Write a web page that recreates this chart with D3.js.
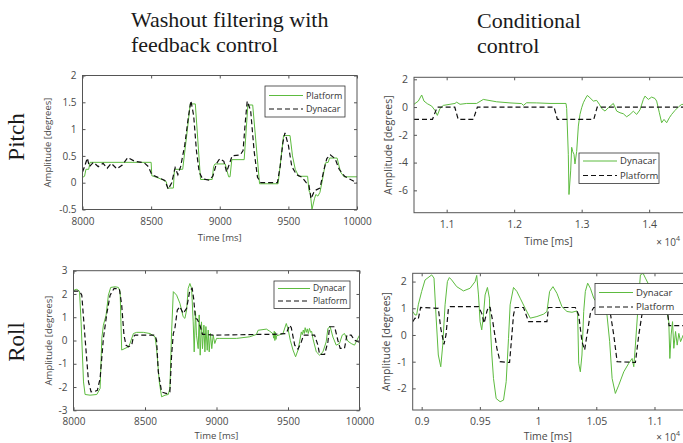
<!DOCTYPE html>
<html>
<head>
<meta charset="utf-8">
<script src="https://cdn.jsdelivr.net/npm/d3@7"></script>
<style>
  body { margin: 0; background: #fff; }
  text { font-family: "Open Sans", "Noto Sans", sans-serif; }
</style>
</head>
<body>
<div id="chart"></div>
<script>
// ---- Pitch, washout filtering with feedback control (time in ms) ----
const pitchWashPlatform = [[8000,0.1],[8015,0.12],[8025,0.25],[8045,0.25],[8055,0.38],[8500,0.38],[8505,0.13],[8540,0.1],[8580,0.06],[8610,0.02],[8620,-0.1],[8662,-0.1],[8670,0.25],[8730,0.25],[8760,0.9],[8785,1.47],[8822,1.47],[8860,0.06],[8945,0.06],[8955,0.3],[8965,0.35],[9040,0.35],[9055,0.2],[9065,0.11],[9075,0.11],[9088,0.43],[9178,0.43],[9205,1.45],[9240,1.45],[9290,-0.02],[9425,-0.02],[9465,0.88],[9512,0.88],[9530,0.5],[9550,0.25],[9575,0.12],[9640,0.12],[9650,-0.15],[9660,-0.2],[9672,-0.5],[9690,-0.3],[9700,-0.22],[9715,-0.25],[9730,-0.18],[9748,0.05],[9770,0.37],[9790,0.38],[9800,0.46],[9855,0.46],[9880,0.2],[9905,0.11],[10000,0.11]];
const pitchWashDynacar = [[8000,0.2],[8015,0.3],[8035,0.46],[8050,0.3],[8080,0.38],[8115,0.3],[8150,0.36],[8180,0.27],[8210,0.36],[8250,0.26],[8290,0.33],[8330,0.47],[8380,0.4],[8450,0.37],[8480,0.3],[8505,0.15],[8550,0.1],[8600,0.04],[8625,-0.12],[8650,0.0],[8675,0.28],[8695,0.15],[8715,0.3],[8745,0.7],[8770,1.2],[8790,1.53],[8810,1.25],[8830,0.6],[8850,0.2],[8875,0.07],[8920,0.05],[8950,0.12],[8975,0.35],[9000,0.45],[9030,0.4],[9050,0.2],[9070,0.35],[9090,0.5],[9150,0.52],[9170,0.6],[9185,1.1],[9200,1.52],[9225,1.35],[9250,0.6],[9275,0.1],[9300,0.0],[9420,0.0],[9440,0.3],[9460,0.75],[9475,0.93],[9500,0.7],[9525,0.3],[9560,0.15],[9600,0.1],[9630,0.0],[9650,-0.05],[9665,-0.3],[9690,-0.15],[9730,-0.1],[9760,0.25],[9780,0.45],[9805,0.52],[9840,0.45],[9870,0.25],[9910,0.12],[9960,0.05],[10000,0.0]];

// ---- Pitch, conditional control (time in 10^4 ms) ----
const pitchCondDynacar = [[1.0516,0.2],[1.058,0.43],[1.063,0.87],[1.0664,0.43],[1.0714,0.24],[1.0778,0.07],[1.0827,-0.24],[1.0862,-0.6],[1.0901,-0.1],[1.0951,0.12],[1.1049,0.2],[1.1123,0.26],[1.1148,0.35],[1.1198,0.2],[1.1296,0.26],[1.1444,0.26],[1.1543,0.55],[1.1741,0.38],[1.1938,0.3],[1.2111,0.25],[1.2136,0.12],[1.2185,0.31],[1.2333,0.3],[1.2531,0.26],[1.2768,0.26],[1.2778,-0.1],[1.2802,-3.4],[1.2812,-6.3],[1.2837,-4.6],[1.2852,-2.9],[1.2867,-3.2],[1.2886,-3.4],[1.2901,-4.1],[1.2926,-3.2],[1.2951,-1.37],[1.2975,-0.53],[1.3,-0.05],[1.3025,0.31],[1.3049,0.55],[1.3084,0.84],[1.3123,0.67],[1.3173,0.43],[1.3222,0.48],[1.3262,0.2],[1.3296,-0.1],[1.3346,-0.29],[1.3395,-0.05],[1.3469,0.26],[1.3519,-0.29],[1.3568,-0.41],[1.3617,-0.48],[1.3667,-0.7],[1.3716,-0.53],[1.3765,-0.3],[1.3815,-0.53],[1.3864,-0.2],[1.3914,0.55],[1.3938,0.79],[1.3988,0.55],[1.4037,0.72],[1.4086,0.62],[1.4111,0.43],[1.4151,-0.41],[1.4185,-1.13],[1.422,-0.89],[1.4259,-1.13],[1.4299,-0.77],[1.4333,-0.53],[1.4383,-0.24],[1.4432,0.0],[1.4481,0.19],[1.46,0.2]];
const pitchCondPlatform = [[1.0516,-0.88],[1.079,-0.88],[1.086,0],[1.112,0],[1.117,-0.88],[1.1395,-0.88],[1.1455,0],[1.259,0],[1.264,-0.88],[1.318,-0.88],[1.323,0],[1.46,0]];

// ---- Roll, washout filtering with feedback control (time in ms) ----
const rollWashDynacar = [[8000,2.1],[8005,2.17],[8023,2.2],[8042,2.12],[8053,0.8],[8070,-1.78],[8081,-2.32],[8116,-2.35],[8163,-2.32],[8186,-2.06],[8198,0.09],[8209,0.66],[8228,1.09],[8244,1.95],[8260,2.28],[8291,2.31],[8314,2.28],[8326,2.1],[8337,-0.41],[8360,-0.34],[8384,-0.27],[8395,-0.13],[8419,0.3],[8442,0.35],[8488,0.35],[8535,0.3],[8570,0.16],[8581,-0.34],[8600,-1.78],[8616,-2.42],[8640,-2.35],[8663,-2.32],[8674,-2.06],[8686,0.37],[8698,2.1],[8721,1.95],[8744,1.6],[8767,1.02],[8779,0.95],[8791,1.31],[8802,2.24],[8814,2.45],[8826,2.24],[8837,0.8],[8844,-0.49],[8853,1.25],[8860,0.23],[8872,-0.35],[8879,1.1],[8886,-0.63],[8895,0.8],[8902,-0.35],[8912,0.66],[8919,-0.49],[8926,0.6],[8935,-0.42],[8942,0.45],[8949,-0.49],[8958,0.3],[8967,-0.35],[8977,0.23],[8988,-0.13],[9000,0.09],[9023,0.09],[9140,0.09],[9233,0.16],[9279,0.26],[9291,0.44],[9349,0.49],[9372,0.4],[9395,0.29],[9400,0.1],[9404,0.4],[9408,0.0],[9412,0.35],[9416,0.05],[9419,0.2],[9440,0.24],[9465,0.3],[9488,0.73],[9500,0.5],[9516,0.01],[9535,-0.41],[9553,-0.7],[9570,-0.41],[9581,-0.06],[9593,0.37],[9600,0.25],[9607,0.45],[9614,0.3],[9620,0.55],[9628,0.35],[9635,0.5],[9642,0.3],[9650,0.52],[9658,0.35],[9665,0.4],[9674,0.09],[9698,-0.49],[9721,-0.63],[9744,-0.49],[9767,-0.06],[9779,0.52],[9795,0.59],[9814,0.15],[9837,-0.2],[9860,-0.13],[9879,0.23],[9895,0.3],[9919,-0.03],[9942,-0.13],[9965,-0.2],[9981,0.0],[10000,0.23]];
const rollWashPlatform = [[8000,2.12],[8042,2.12],[8058,1.95],[8081,0.09],[8105,-1.78],[8123,-2.21],[8151,-2.18],[8167,-2.14],[8186,-1.63],[8209,0.09],[8233,1.16],[8256,1.95],[8284,2.24],[8321,2.21],[8337,1.52],[8353,0.23],[8367,-0.2],[8384,-0.27],[8407,-0.2],[8419,0.16],[8430,0.23],[8570,0.23],[8581,0.01],[8593,-1.35],[8616,-2.21],[8651,-2.28],[8674,-2.21],[8686,-0.63],[8698,0.3],[8709,0.52],[8726,1.31],[8744,1.45],[8767,1.16],[8791,1.38],[8814,2.17],[8830,2.24],[8840,1.81],[8853,0.95],[8865,0.92],[8884,0.66],[8902,0.26],[8930,0.26],[8977,0.23],[9291,0.26],[9395,0.26],[9488,0.3],[9512,0.66],[9523,0.55],[9547,-0.2],[9570,-0.37],[9593,-0.06],[9609,0.23],[9686,0.23],[9709,-0.2],[9721,-0.6],[9756,-0.6],[9779,-0.06],[9791,0.59],[9826,0.59],[9849,0.0],[9865,-0.34],[9895,-0.34],[9912,0.23],[9942,0.23],[9965,0.01],[10000,-0.08]];

// ---- Roll, conditional control (time in 10^4 ms) ----
const rollCondDynacar = [[0.8923,0.88],[0.8943,0.75],[0.8957,0.75],[0.8971,1.13],[0.9,1.63],[0.9029,2.06],[0.9086,2.25],[0.9106,2.13],[0.9123,0.75],[0.9143,-0.75],[0.9164,-1.19],[0.9181,-0.38],[0.9201,1.13],[0.9221,2.0],[0.9238,2.15],[0.9258,2.06],[0.9301,1.81],[0.9359,1.65],[0.9416,1.75],[0.9459,2.0],[0.9473,2.23],[0.9488,1.5],[0.9502,0.5],[0.9516,0.19],[0.9531,0.75],[0.9545,1.5],[0.9565,1.78],[0.9582,1.38],[0.9588,0.5],[0.9603,-0.75],[0.9617,-1.63],[0.964,-2.38],[0.9674,-2.5],[0.9703,-2.44],[0.9726,-1.75],[0.9746,-0.13],[0.976,1.13],[0.9789,1.78],[0.9818,1.63],[0.9846,1.38],[0.9889,1.0],[0.9933,0.63],[0.999,0.69],[1.0047,0.78],[1.0076,0.88],[1.0099,1.63],[1.0128,1.81],[1.0162,1.56],[1.0205,1.06],[1.0248,0.88],[1.0291,0.85],[1.0334,0.9],[1.034,0.75],[1.0349,-1.06],[1.0363,-1.38],[1.0377,-0.75],[1.0392,0.88],[1.0406,1.63],[1.0426,1.94],[1.0449,1.75],[1.0478,1.38],[1.0506,1.2],[1.0549,1.0],[1.0592,0.75],[1.0615,-0.25],[1.0636,-1.63],[1.0664,-2.19],[1.0693,-1.88],[1.0736,-1.38],[1.0779,-1.06],[1.0808,-0.88],[1.0822,-1.19],[1.0836,-0.38],[1.0856,0.88],[1.0879,2.25],[1.0902,2.31],[1.0922,2.13],[1.0966,1.75],[1.1023,1.5],[1.108,1.13],[1.1109,0.8],[1.1123,0.5],[1.1132,-0.88],[1.1143,0.0],[1.1155,0.5],[1.1166,-0.5],[1.1181,0.13],[1.1195,-0.38],[1.1209,0.06],[1.1224,-0.25],[1.1247,0.0],[1.135,0.0]];
const rollCondPlatform = [[0.8923,0.5],[0.8943,0.63],[0.8971,0.6],[0.8991,1.03],[0.9143,1.0],[0.9164,0.25],[0.9192,-0.35],[0.9209,0.0],[0.923,1.0],[0.9244,1.06],[0.9488,1.06],[0.9516,0.81],[0.9537,0.44],[0.956,0.88],[0.9574,1.06],[0.9588,1.03],[0.9611,0.5],[0.9646,-0.5],[0.9674,-1.0],[0.9755,-1.03],[0.9775,0.0],[0.9789,0.75],[0.9803,1.03],[0.9875,1.03],[0.9918,0.5],[1.0076,0.5],[1.009,1.03],[1.032,1.03],[1.0349,0.75],[1.0377,-0.25],[1.04,-0.56],[1.042,0.0],[1.0449,0.81],[1.0478,1.03],[1.06,1.03],[1.0621,0.81],[1.065,0.0],[1.0679,-1.0],[1.0836,-1.03],[1.0865,0.0],[1.0894,0.81],[1.091,1.0],[1.111,1.0],[1.1125,0.35],[1.135,0.35]];

// ---- ticks ----
const washXTicks = [8000, 8500, 9000, 9500, 10000];
const pitchWashYTicks = [-0.5, 0, 0.5, 1, 1.5, 2];
const pitchCondXTicks = [1.1, 1.2, 1.3, 1.4];
const pitchCondYTicks = [-6, -4, -2, 0, 2];
const rollWashYTicks = [-3, -2, -1, 0, 1, 2, 3];
const rollCondXTicks = [0.9, 0.95, 1, 1.05, 1.1];
const rollCondYTicks = [-2, -1, 0, 1, 2];

const GREEN = "#5dbb3f";
const AXIS = "#555";
const width = 683, height = 443;

const svg = d3.select("#chart").append("svg")
  .attr("width", width).attr("height", height)
  .style("background", "#fff");

// headings
const titleFont = "'Liberation Serif', 'Times New Roman', serif";
[["Washout filtering with", 131, 27], ["feedback control", 131, 52],
 ["Conditional", 477, 28], ["control", 477, 53]].forEach(([t, x, y]) => {
  svg.append("text").attr("x", x).attr("y", y).text(t)
    .style("font-family", titleFont).style("font-size", "22px").attr("fill", "#1a1a1a");
});
[["Pitch", 137], ["Roll", 342]].forEach(([t, y]) => {
  svg.append("text").attr("transform", `translate(24,${y}) rotate(-90)`)
    .attr("text-anchor", "middle").text(t)
    .style("font-family", titleFont).style("font-size", "23px").attr("fill", "#1a1a1a");
});

const fmt = d => String(d);

function drawPanel(p) {
  const x = d3.scaleLinear().domain(p.xDomain).range([p.left, p.right]);
  const y = d3.scaleLinear().domain(p.yDomain).range([p.bottom, p.top]);
  const g = svg.append("g");

  g.append("clipPath").attr("id", p.id)
    .append("rect").attr("x", p.left).attr("y", p.top)
    .attr("width", p.right - p.left).attr("height", p.bottom - p.top);

  const line = d3.line().x(d => x(d[0])).y(d => y(d[1]));
  p.series.forEach(s => {
    g.append("path").datum(s.data)
      .attr("clip-path", `url(#${p.id})`)
      .attr("d", line)
      .attr("fill", "none")
      .attr("stroke", s.color)
      .attr("stroke-width", s.dash ? 1.2 : 1)
      .attr("stroke-dasharray", s.dash || null);
  });

  const axes = [
    [d3.axisBottom(x).tickValues(p.xTicks).tickFormat(fmt).tickPadding(8), `translate(0,${p.bottom})`],
    [d3.axisTop(x).tickValues(p.xTicks).tickFormat(""), `translate(0,${p.top})`],
    [d3.axisLeft(y).tickValues(p.yTicks).tickFormat(fmt).tickPadding(6), `translate(${p.left},0)`],
    [d3.axisRight(y).tickValues(p.yTicks).tickFormat(""), `translate(${p.right},0)`]
  ];
  axes.forEach(([ax, tr]) => {
    const a = g.append("g").attr("transform", tr)
      .call(ax.tickSizeInner(-3).tickSizeOuter(0));
    a.select(".domain").remove();
    a.selectAll("line").attr("stroke", AXIS);
    a.selectAll("text").attr("fill", "#4a4a4a")
      .style("font-size", p.tickSize + "px")
      .style("font-family", "'Open Sans', sans-serif");
  });

  g.append("rect").attr("x", p.left).attr("y", p.top)
    .attr("width", p.right - p.left).attr("height", p.bottom - p.top)
    .attr("fill", "none").attr("stroke", AXIS).attr("stroke-width", 1);

  g.append("text").attr("x", (p.left + Math.min(p.right, width)) / 2)
    .attr("y", p.xLabelY).attr("text-anchor", "middle")
    .style("font-size", p.labelSize + "px").attr("fill", "#4a4a4a").text("Time [ms]");
  g.append("text")
    .attr("transform", `translate(${p.yLabelX},${(p.top + p.bottom) / 2}) rotate(-90)`)
    .attr("text-anchor", "middle")
    .style("font-size", p.labelSize + "px").attr("fill", "#4a4a4a").text("Amplitude [degrees]");

  if (p.exponent) {
    const e = g.append("text").attr("x", 680).attr("y", p.exponent)
      .attr("text-anchor", "end")
      .style("font-size", "10px").attr("fill", "#4a4a4a");
    e.append("tspan").text("\u00d7 10");
    e.append("tspan").attr("dy", -5).style("font-size", "7px").text("4");
  }

  // legend
  const L = p.legend;
  const lg = g.append("g");
  lg.append("rect").attr("x", L.x).attr("y", L.y).attr("width", L.w).attr("height", L.h)
    .attr("fill", "#fff").attr("stroke", "#333").attr("stroke-width", 0.8);
  L.items.forEach((it, i) => {
    const yy = L.y + L.rowY[i];
    lg.append("line").attr("x1", L.x + 4).attr("x2", L.x + L.lineW)
      .attr("y1", yy).attr("y2", yy)
      .attr("stroke", it.color).attr("stroke-width", it.dash ? 1.2 : 1)
      .attr("stroke-dasharray", it.dash || null);
    lg.append("text").attr("x", L.x + L.lineW + 3).attr("y", yy).attr("dy", "0.35em")
      .style("font-size", L.size + "px").attr("fill", "#333").text(it.name);
  });
}

const DASH = "5,3";

drawPanel({
  id: "c1", left: 82.5, right: 357, top: 75.5, bottom: 209.5,
  xDomain: [8000, 10000], yDomain: [-0.5, 2],
  xTicks: washXTicks, yTicks: pitchWashYTicks,
  tickSize: 10, labelSize: 9.5, xLabelY: 241, yLabelX: 51,
  series: [
    { data: pitchWashPlatform, color: GREEN },
    { data: pitchWashDynacar, color: "#111", dash: DASH }
  ],
  legend: { x: 265, y: 86, w: 80, h: 31, lineW: 38, rowY: [9.5, 23], size: 9,
    items: [{ name: "Platform", color: GREEN }, { name: "Dynacar", color: "#111", dash: DASH }] }
});

drawPanel({
  id: "c2", left: 414, right: 690, top: 77.3, bottom: 212.7,
  xDomain: [1.0516, 1.4605], yDomain: [-7.61, 2.144],
  xTicks: pitchCondXTicks, yTicks: pitchCondYTicks,
  tickSize: 10.5, labelSize: 10.5, xLabelY: 245, yLabelX: 392,
  exponent: 246,
  series: [
    { data: pitchCondDynacar, color: GREEN },
    { data: pitchCondPlatform, color: "#111", dash: DASH }
  ],
  legend: { x: 579, y: 153, w: 80, h: 30.5, lineW: 38, rowY: [8, 22.5], size: 9.5,
    items: [{ name: "Dynacar", color: GREEN }, { name: "Platform", color: "#111", dash: DASH }] }
});

drawPanel({
  id: "c3", left: 73.5, right: 359.5, top: 270.7, bottom: 410.3,
  xDomain: [8000, 10000], yDomain: [-3, 3],
  xTicks: washXTicks, yTicks: rollWashYTicks,
  tickSize: 10, labelSize: 9.5, xLabelY: 439, yLabelX: 52,
  series: [
    { data: rollWashDynacar, color: GREEN },
    { data: rollWashPlatform, color: "#111", dash: DASH }
  ],
  legend: { x: 274, y: 281, w: 76, h: 27.5, lineW: 36, rowY: [7.5, 20], size: 8.5,
    items: [{ name: "Dynacar", color: GREEN }, { name: "Platform", color: "#111", dash: DASH }] }
});

drawPanel({
  id: "c4", left: 412.7, right: 695, top: 273.3, bottom: 410,
  xDomain: [0.8923, 1.1348], yDomain: [-2.81, 2.31],
  xTicks: rollCondXTicks, yTicks: rollCondYTicks,
  tickSize: 10.5, labelSize: 10.5, xLabelY: 440, yLabelX: 390,
  exponent: 441,
  series: [
    { data: rollCondDynacar, color: GREEN },
    { data: rollCondPlatform, color: "#111", dash: DASH }
  ],
  legend: { x: 595, y: 283.5, w: 92, h: 31, lineW: 38, rowY: [9, 23.5], size: 9.5,
    items: [{ name: "Dynacar", color: GREEN }, { name: "Platform", color: "#111", dash: DASH }] }
});
</script>
</body>
</html>
